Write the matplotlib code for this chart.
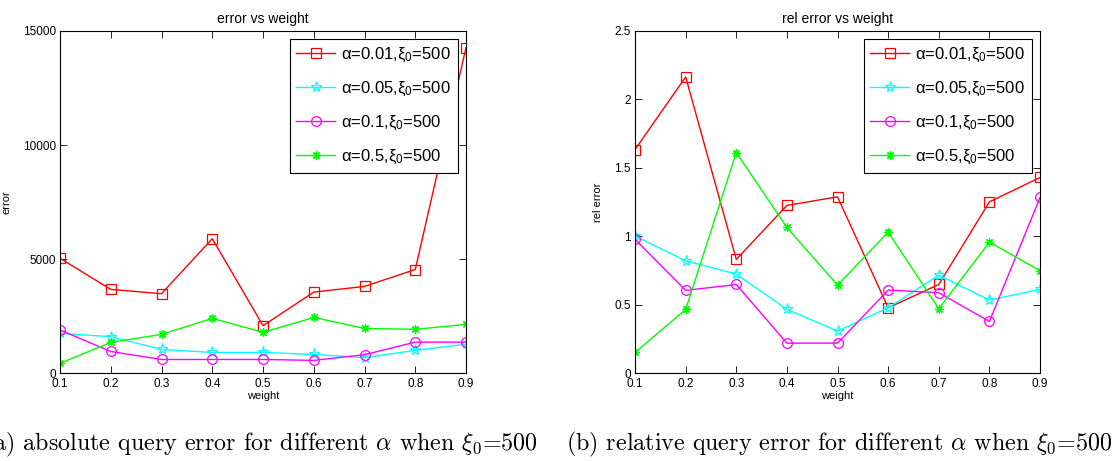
import matplotlib
matplotlib.use("Agg")
import matplotlib.pyplot as plt
from matplotlib.ticker import FormatStrFormatter

plt.rcParams['font.family'] = ['Liberation Sans', 'DejaVu Sans']
plt.rcParams['mathtext.fontset'] = 'custom'
plt.rcParams['mathtext.rm'] = 'Liberation Sans'
plt.rcParams['mathtext.it'] = 'Liberation Sans'

weight = [0.1, 0.2, 0.3, 0.4, 0.5, 0.6, 0.7, 0.8, 0.9]
labels = ['α=0.01,ξ$_0$=500', 'α=0.05,ξ$_0$=500',
          'α=0.1,ξ$_0$=500', 'α=0.5,ξ$_0$=500']

# absolute error
err_001 = [5040, 3680, 3490, 5900, 2090, 3560, 3810, 4550, 14270]
err_005 = [1750, 1610, 1050, 920, 920, 830, 690, 1010, 1280]
err_01 = [1900, 960, 610, 610, 610, 570, 820, 1370, 1370]
err_05 = [440, 1360, 1710, 2410, 1800, 2450, 1970, 1930, 2150]

# relative error
rel_001 = [1.634, 2.164, 0.832, 1.226, 1.289, 0.479, 0.649, 1.252, 1.430]
rel_005 = [1.002, 0.822, 0.725, 0.467, 0.309, 0.479, 0.717, 0.535, 0.613]
rel_01 = [0.978, 0.606, 0.649, 0.221, 0.221, 0.608, 0.589, 0.379, 1.284]
rel_05 = [0.153, 0.467, 1.612, 1.065, 0.644, 1.031, 0.472, 0.958, 0.749]

styles = [dict(color='#ff0000', marker='s', ms=7),
          dict(color='#00ffff', marker='*', ms=8),
          dict(color='#ff00ff', marker='o', ms=7),
          dict(color='#00ff00', marker=(8, 2, 0), ms=6)]

fig = plt.figure(figsize=(11.2, 4.61), dpi=100)
ax1 = fig.add_axes([0.0536, 0.190, 0.3625, 0.743])
ax2 = fig.add_axes([0.567, 0.190, 0.3616, 0.743])


def draw(ax, series, title, ylabel, ymax, yticks):
    for s, st, lab in zip(series, styles, labels):
        ax.plot(weight, s, color=st['color'], marker=st['marker'], markersize=st['ms'],
                markerfacecolor='none', markeredgecolor=st['color'], linewidth=1,
                markeredgewidth=0.9, label=lab)
    ax.set_xlim(0.1, 0.9)
    ax.set_ylim(0, ymax)
    ax.set_xticks(weight)
    ax.set_yticks(yticks)
    ax.xaxis.set_major_formatter(FormatStrFormatter('%g'))
    ax.yaxis.set_major_formatter(FormatStrFormatter('%g'))
    ax.tick_params(direction='in', top=True, right=True, length=5, width=0.6,
                   labelsize=8.5, pad=3)
    for sp in ax.spines.values():
        sp.set_linewidth(0.8)
    ax.set_title(title, fontsize=10, pad=6)
    ax.set_xlabel('weight', fontsize=8, labelpad=1)
    ax.set_ylabel(ylabel, fontsize=8, labelpad=8)
    leg = ax.legend(loc='upper right', fontsize=12, fancybox=False, framealpha=1,
                    edgecolor='black', handlelength=2.3, borderaxespad=0.5,
                    labelspacing=0.95, handletextpad=0.4, borderpad=0.4)
    leg.get_frame().set_linewidth(0.8)


draw(ax1, [err_001, err_005, err_01, err_05], 'error vs weight', 'error',
     15000, [0, 5000, 10000, 15000])
draw(ax2, [rel_001, rel_005, rel_01, rel_05], 'rel error vs weight', 'rel error',
     2.5, [0, 0.5, 1, 1.5, 2, 2.5])

fig.text(538 / 1120, 0.037, r'(a) absolute query error for different $\alpha$ when $\xi_0$=500',
         ha='right', va='center', fontsize=17.3, family='cmr10', math_fontfamily='cm')
fig.text(1113 / 1120, 0.037, r'(b) relative query error for different $\alpha$ when $\xi_0$=500',
         ha='right', va='center', fontsize=17.3, family='cmr10', math_fontfamily='cm')

fig.savefig('out.png', dpi=100)
